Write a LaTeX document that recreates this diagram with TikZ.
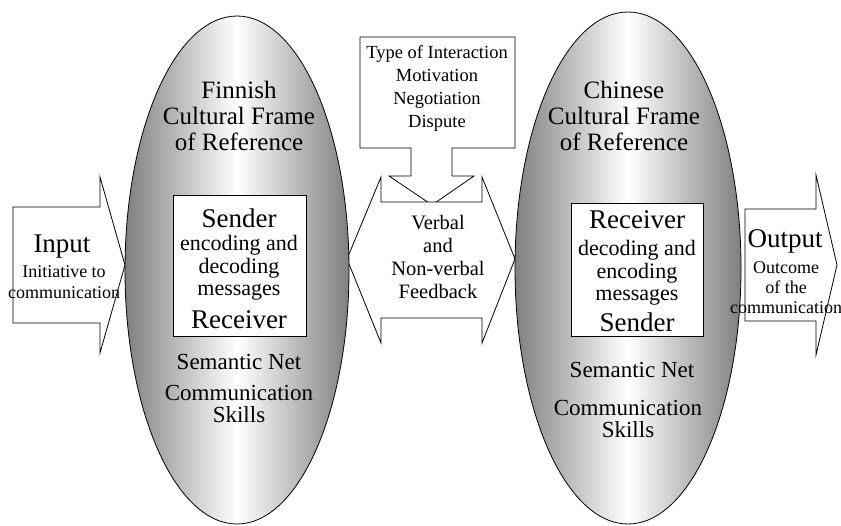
\documentclass[tikz,border=0pt]{standalone}
\usepackage{fontspec}
\setmainfont{Liberation Serif}
\usetikzlibrary{shapes.geometric}
\begin{document}
\begin{tikzpicture}[x=1pt,y=-1pt,
  outline/.style={draw=black, line width=0.8pt},
  framefill/.style={outline, fill=white},
  culture/.style={ellipse, outline, inner sep=0pt,
    left color=gray, right color=gray, middle color=white},
  rolebox/.style={rectangle, framefill, inner sep=0pt},
  txt/.style={align=center, inner sep=0pt, font=\fontsize{23}{26}\selectfont},
  titletxt/.style={align=center, inner sep=0pt, font=\fontsize{25}{26}\selectfont},
  bigtxt/.style={align=center, inner sep=0pt, font=\fontsize{27}{30}\selectfont},
  smalltxt/.style={align=center, inner sep=0pt, font=\fontsize{22}{22.5}\selectfont},
  arrowtxt/.style={align=center, inner sep=0pt, font=\fontsize{18}{21}\selectfont},
  midtxt/.style={align=center, inner sep=0pt, font=\fontsize{20.5}{23}\selectfont},
  calltxt/.style={align=center, inner sep=0pt, font=\fontsize{18.5}{23}\selectfont}
]
\useasboundingbox (0,0) rectangle (841,525);

% input and output block arrows
\draw[framefill] (13,207) -- (100,207) -- (100,177) -- (125,265) -- (100,353)
  -- (100,323) -- (13,323) -- cycle;
\draw[framefill] (745,209) -- (816,209) -- (816,175) -- (837,265) -- (816,355)
  -- (816,321) -- (745,321) -- cycle;

% callout box with its pointer
\draw[framefill] (360,37) -- (515,37) -- (515,148) -- (452,148) -- (452,176)
  -- (474,176) -- (432,205) -- (389,176) -- (411,176) -- (411,148)
  -- (360,148) -- cycle;

% two-way feedback arrow
\draw[framefill] (347,259) -- (381,177) -- (381,202) -- (482,202) -- (482,177)
  -- (515,259) -- (482,343) -- (482,318) -- (381,318) -- (381,343) -- cycle;

% cultural frames
\node[culture, minimum width=224pt, minimum height=508pt] (finn) at (237,270) {};
\node[culture, minimum width=226pt, minimum height=512pt] (china) at (628,268) {};

% sender / receiver boxes
\node[rolebox, minimum width=133pt, minimum height=141pt] (lbox) at (239.5,265.5) {};
\node[rolebox, minimum width=132pt, minimum height=133pt] (rbox) at (637,269.5) {};

% Finnish side
\node[titletxt] (ftitle) at (239,116) {Finnish\\Cultural Frame\\of Reference};
\node[bigtxt] (fsend) at (239,218) {Sender};
\node[smalltxt] (fcode) at (239,268) {encoding and\\decoding\\messages};
\node[bigtxt] (frecv) at (239,320) {Receiver};
\node[txt] (fsem) at (239,362) {Semantic Net};
\node[txt, font=\fontsize{23}{22}\selectfont] (fskill) at (239,404) {Communication\\Skills};

% Chinese side
\node[titletxt] (ctitle) at (624,116) {Chinese\\Cultural Frame\\of Reference};
\node[bigtxt] (crecv) at (637,220) {Receiver};
\node[smalltxt] (ccode) at (637,273) {decoding and\\encoding\\messages};
\node[bigtxt] (csend) at (637,322) {Sender};
\node[txt] (csem) at (632,370) {Semantic Net};
\node[txt, font=\fontsize{23}{22}\selectfont] (cskill) at (628,419) {Communication\\Skills};

% middle texts
\node[calltxt] (inter) at (437,88) {Type of Interaction\\Motivation\\Negotiation\\Dispute};
\node[midtxt] (feed) at (438,257) {Verbal\\and\\Non-verbal\\Feedback};

% input / output texts
\node[bigtxt] (inp) at (62,247) {Input};
\node[arrowtxt] (inpd) at (64,282) {Initiative to\\communication};
\node[bigtxt] (outp) at (785,241) {Output};
\node[arrowtxt, font=\fontsize{18}{20}\selectfont] (outd) at (786,288) {Outcome\\of the\\communication};
\end{tikzpicture}
\end{document}
